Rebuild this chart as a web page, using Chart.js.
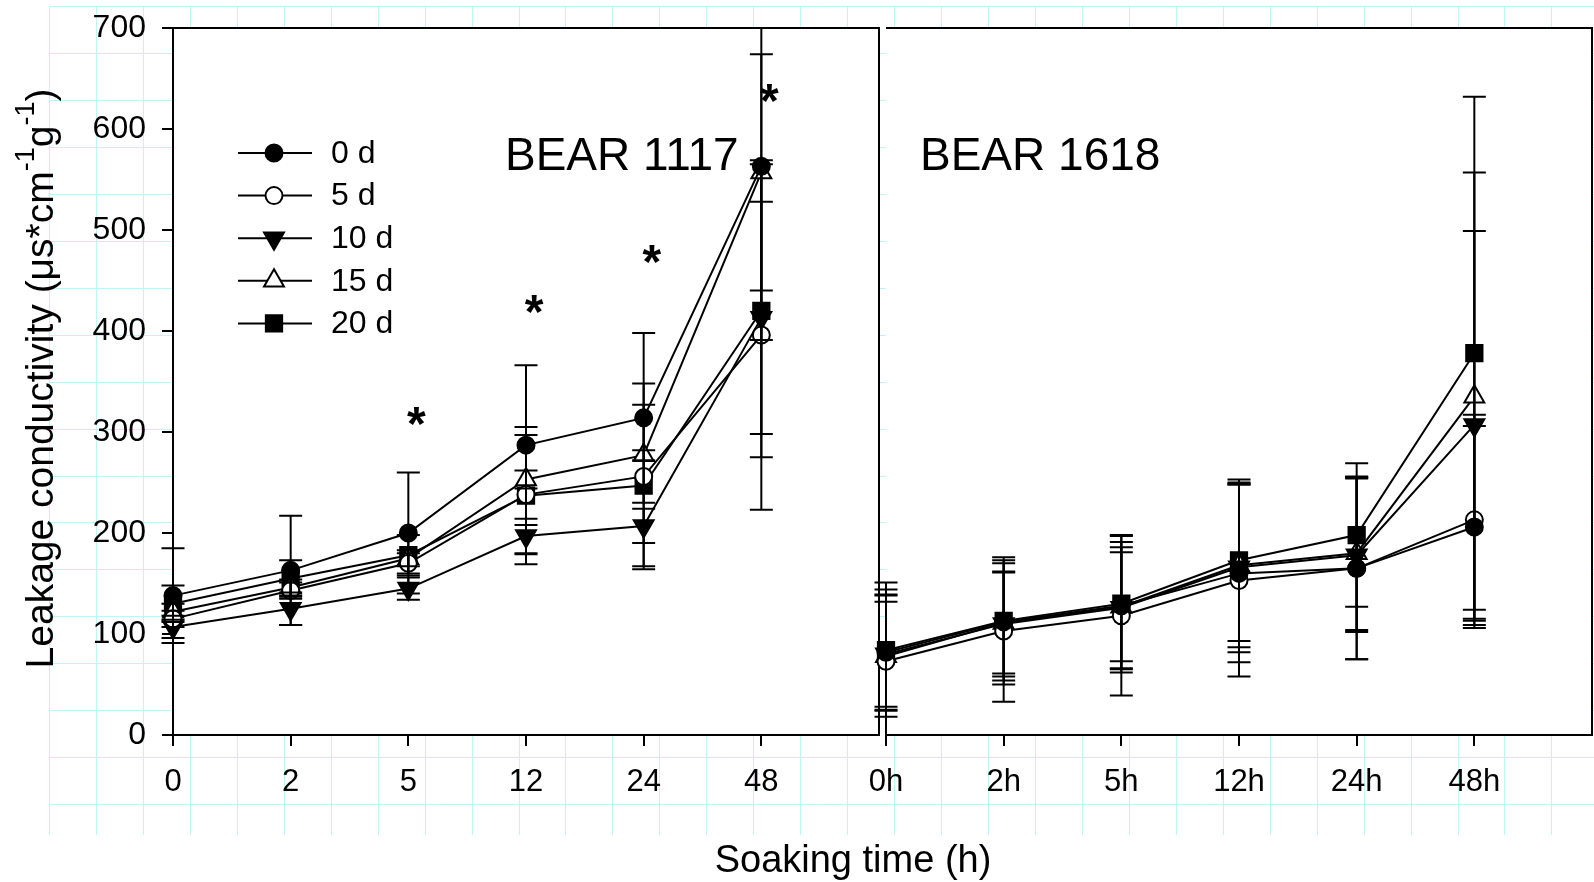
<!DOCTYPE html>
<html>
<head>
<meta charset="utf-8">
<title>Leakage conductivity</title>
<script src="https://cdn.jsdelivr.net/npm/chart.js@4.4.1/dist/chart.umd.min.js"></script>
<style>
  html, body { margin: 0; padding: 0; background: #fff; }
  #wrap { position: relative; width: 1594px; height: 882px; overflow: hidden; }
  #wrap canvas { position: absolute; left: 0; top: 0; }
</style>
</head>
<body>
<div id="wrap">
  <canvas id="bear1117" width="1594" height="882"></canvas>
  <canvas id="bear1618" width="1640" height="882"></canvas>
</div>
<script>
const FONT = "'Liberation Sans', Arial, Helvetica, sans-serif";

// soaking times on the two x axes
const hoursLeft = ['0', '2', '5', '12', '24', '48'];
const hoursRight = ['0h', '2h', '5h', '12h', '24h', '48h'];
const storage = ['0 d', '5 d', '10 d', '15 d', '20 d'];
const yTicks = [0, 100, 200, 300, 400, 500, 600, 700];

// BEAR 1117, one row per storage time (0, 5, 10, 15, 20 d)
const mean1117 = [
  [138, 163, 200, 287, 314, 563],
  [115, 143, 170, 238, 256, 396],
  [107, 125, 145, 197, 207, 413],
  [122, 146, 175, 253, 277, 557],
  [130, 155, 178, 237, 247, 420],
];
const sd1117 = [
  [47, 54, 60, 79, 84, 172],
  [8, 8, 10, 59, 92, 173],
  [11, 16, 11, 17, 17, 115],
  [8, 8, 8, 9, 5, 117],
  [18, 18, 20, 68, 80, 145],
];

// BEAR 1618
const mean1618 = [
  [82, 112, 128, 160, 165, 206],
  [73, 103, 118, 153, 165, 213],
  [80, 110, 126, 166, 178, 307],
  [78, 111, 127, 168, 180, 335],
  [84, 113, 130, 173, 198, 378],
];
const sd1618 = [
  [57, 58, 63, 88, 90, 100],
  [78, 70, 79, 95, 90, 104],
  [52, 52, 60, 84, 76, 192],
  [60, 50, 54, 81, 76, 222],
  [60, 63, 68, 80, 71, 254],
];

// asterisks over BEAR 1117 (x index, height)
const starAt = [2, 3, 4, 5];
const starLevel = [316, 427, 476, 636];

const markers = [
  { pointStyle: 'circle', radius: 8.5, rotation: 0, fill: '#000' },
  { pointStyle: 'circle', radius: 8.5, rotation: 0, fill: '#fff' },
  { pointStyle: 'triangle', radius: 11.5, rotation: 180, fill: '#000' },
  { pointStyle: 'triangle', radius: 11.5, rotation: 0, fill: '#fff' },
  { pointStyle: 'rect', radius: 11.5, rotation: 0, fill: '#000' },
];

Chart.defaults.font.family = FONT;
Chart.defaults.color = '#000';

function buildDatasets(means) {
  return means.map((row, s) => ({
    label: storage[s],
    data: row.map((v, i) => ({ x: i, y: v })),
    borderColor: '#000',
    borderWidth: 2,
    pointStyle: markers[s].pointStyle,
    pointRadius: markers[s].radius,
    pointRotation: markers[s].rotation,
    pointBackgroundColor: markers[s].fill,
    pointBorderColor: '#000',
    pointBorderWidth: 2,
    tension: 0,
    fill: false,
    clip: false,
  }));
}

function errorBars(means, sds) {
  return {
    id: 'errorBars',
    afterDatasetsDraw(chart) {
      const { ctx, chartArea: a, scales: { x, y } } = chart;
      ctx.save();
      ctx.beginPath();
      ctx.rect(a.left - 20, a.top, a.right - a.left + 40, a.bottom - a.top);
      ctx.clip();
      ctx.strokeStyle = '#000';
      ctx.lineWidth = 2;
      sds.forEach((row, s) => row.forEach((e, i) => {
        const m = means[s][i];
        const px = x.getPixelForValue(i);
        const hi = y.getPixelForValue(m + e);
        const lo = y.getPixelForValue(m - e);
        ctx.beginPath();
        ctx.moveTo(px, hi); ctx.lineTo(px, lo);
        ctx.moveTo(px - 11.5, hi); ctx.lineTo(px + 11.5, hi);
        ctx.moveTo(px - 11.5, lo); ctx.lineTo(px + 11.5, lo);
        ctx.stroke();
      }));
      ctx.restore();
    }
  };
}

// page grid behind both panels, white plot area
const paper = {
  id: 'paper',
  beforeDraw(chart) {
    const { ctx, chartArea: a } = chart;
    ctx.save();
    ctx.strokeStyle = '#c2f4f6';
    ctx.lineWidth = 1;
    ctx.beginPath();
    for (let k = 0; ; k++) {
      const gx = Math.round(49 + k * 46.95) + 0.5;
      if (gx > chart.width) break;
      ctx.moveTo(gx, 6); ctx.lineTo(gx, 835);
    }
    for (let k = 0; k <= 17; k++) {
      const gy = Math.round(6 + k * 46.95) + 0.5;
      ctx.moveTo(49, gy); ctx.lineTo(chart.width, gy);
    }
    ctx.stroke();
    ctx.fillStyle = '#fff';
    ctx.fillRect(a.left, a.top, a.right - a.left, a.bottom - a.top);
    ctx.restore();
  }
};

const whiteArea = {
  id: 'whiteArea',
  beforeDraw(chart) {
    const { ctx, chartArea: a } = chart;
    ctx.save();
    ctx.fillStyle = '#fff';
    ctx.fillRect(a.left, a.top, a.right - a.left, a.bottom - a.top);
    ctx.restore();
  }
};

const frame = {
  id: 'frame',
  beforeDatasetsDraw(chart) {
    const { ctx, chartArea: a } = chart;
    ctx.save();
    ctx.strokeStyle = '#000';
    ctx.lineWidth = 2;
    ctx.beginPath();
    ctx.moveTo(a.left, a.top); ctx.lineTo(a.right, a.top); ctx.lineTo(a.right, a.bottom);
    ctx.stroke();
    ctx.restore();
  }
};

function panelLabel(text, dx) {
  return {
    id: 'panelLabel',
    afterDraw(chart) {
      const { ctx, chartArea: a } = chart;
      ctx.save();
      ctx.font = `46px ${FONT}`;
      ctx.fillStyle = '#000';
      ctx.textBaseline = 'alphabetic';
      ctx.textAlign = 'left';
      ctx.fillText(text, a.left + dx, a.top + 142);
      ctx.restore();
    }
  };
}

function drawStar(ctx, cx, cy) {
  ctx.font = `bold 48px ${FONT}`;
  ctx.textAlign = 'left';
  ctx.textBaseline = 'alphabetic';
  const m = ctx.measureText('*');
  const x = cx - (m.actualBoundingBoxRight - m.actualBoundingBoxLeft) / 2;
  const y = cy - (m.actualBoundingBoxDescent - m.actualBoundingBoxAscent) / 2;
  ctx.fillText('*', x, y);
}

const annotations = {
  id: 'annotations',
  afterDraw(chart) {
    const { ctx, chartArea: a, scales: { x, y } } = chart;
    ctx.save();
    ctx.fillStyle = '#000';

    // significance marks
    starAt.forEach((i, k) => drawStar(ctx, x.getPixelForValue(i + 0.07), y.getPixelForValue(starLevel[k])));

    // legend
    const lx = a.left + 65, ly = a.top + 125, rowH = 42.6;
    storage.forEach((name, s) => {
      const yy = ly + s * rowH;
      ctx.strokeStyle = '#000';
      ctx.lineWidth = 2;
      ctx.beginPath();
      ctx.moveTo(lx, yy); ctx.lineTo(lx + 74, yy);
      ctx.stroke();
      ctx.fillStyle = markers[s].fill;
      Chart.helpers.drawPoint(ctx, {
        pointStyle: markers[s].pointStyle,
        radius: markers[s].radius,
        rotation: markers[s].rotation,
        borderWidth: 2,
      }, lx + 36, yy);
      ctx.fillStyle = '#000';
      ctx.font = `32px ${FONT}`;
      ctx.textAlign = 'left';
      ctx.textBaseline = 'middle';
      ctx.fillText(name, lx + 93, yy + 1);
    });

    // axis titles
    ctx.font = `38px ${FONT}`;
    ctx.textAlign = 'center';
    ctx.textBaseline = 'alphabetic';
    ctx.fillText('Soaking time (h)', 853, 872);

    const parts = [
      { t: 'Leakage conductivity (\u03bcs*cm', sup: false },
      { t: '-1', sup: true },
      { t: 'g', sup: false },
      { t: '-1', sup: true },
      { t: ')', sup: false },
    ];
    const fontFor = (p) => p.sup ? `27px ${FONT}` : `39px ${FONT}`;
    let total = 0;
    parts.forEach((p) => { ctx.font = fontFor(p); p.w = ctx.measureText(p.t).width; total += p.w; });
    ctx.translate(53, (a.top + a.bottom) / 2 - 3);
    ctx.rotate(-Math.PI / 2);
    ctx.textAlign = 'left';
    let cx = -total / 2;
    parts.forEach((p) => {
      ctx.font = fontFor(p);
      ctx.fillText(p.t, cx, p.sup ? -19 : 0);
      cx += p.w;
    });
    ctx.restore();
  }
};

function xAxis(labels, min) {
  return {
    type: 'linear',
    min: min,
    max: 6,
    afterBuildTicks: (axis) => { axis.ticks = labels.map((_, i) => ({ value: i })); },
    afterFit: (axis) => { axis.height = 60; },
    ticks: {
      autoSkip: false,
      maxRotation: 0,
      padding: 18,
      font: { size: 31 },
      color: '#000',
      callback: (v) => labels[v],
    },
    grid: { drawOnChartArea: false, drawTicks: true, tickLength: 11, color: '#000', lineWidth: 2 },
    border: { display: true, color: '#000', width: 2 },
  };
}

const commonOptions = {
  responsive: false,
  animation: false,
  devicePixelRatio: 1,
  events: [],
  plugins: { legend: { display: false }, tooltip: { enabled: false } },
};

new Chart(document.getElementById('bear1117'), {
  type: 'line',
  data: { datasets: buildDatasets(mean1117) },
  options: {
    ...commonOptions,
    layout: { padding: { left: 0, top: 28, right: 715, bottom: 87 } },
    scales: {
      x: xAxis(hoursLeft, 0),
      y: {
        min: 0,
        max: 700,
        afterBuildTicks: (axis) => { axis.ticks = yTicks.map((v) => ({ value: v })); },
        afterFit: (axis) => { axis.width = 173; },
        ticks: { padding: 16, font: { size: 32, lineHeight: 0.65 }, color: '#000' },
        grid: { drawOnChartArea: false, drawTicks: true, tickLength: 11, color: '#000', lineWidth: 2 },
        border: { display: true, color: '#000', width: 2 },
      },
    },
  },
  plugins: [paper, frame, errorBars(mean1117, sd1117), panelLabel('BEAR 1117', 332), annotations],
});

new Chart(document.getElementById('bear1618'), {
  type: 'line',
  data: { datasets: buildDatasets(mean1618) },
  options: {
    ...commonOptions,
    layout: { padding: { left: 886, top: 28, right: 48, bottom: 87 } },
    scales: {
      x: xAxis(hoursRight, 0),
      y: { display: false, min: 0, max: 700 },
    },
  },
  plugins: [whiteArea, frame, errorBars(mean1618, sd1618), panelLabel('BEAR 1618', 34)],
});
</script>
</body>
</html>
